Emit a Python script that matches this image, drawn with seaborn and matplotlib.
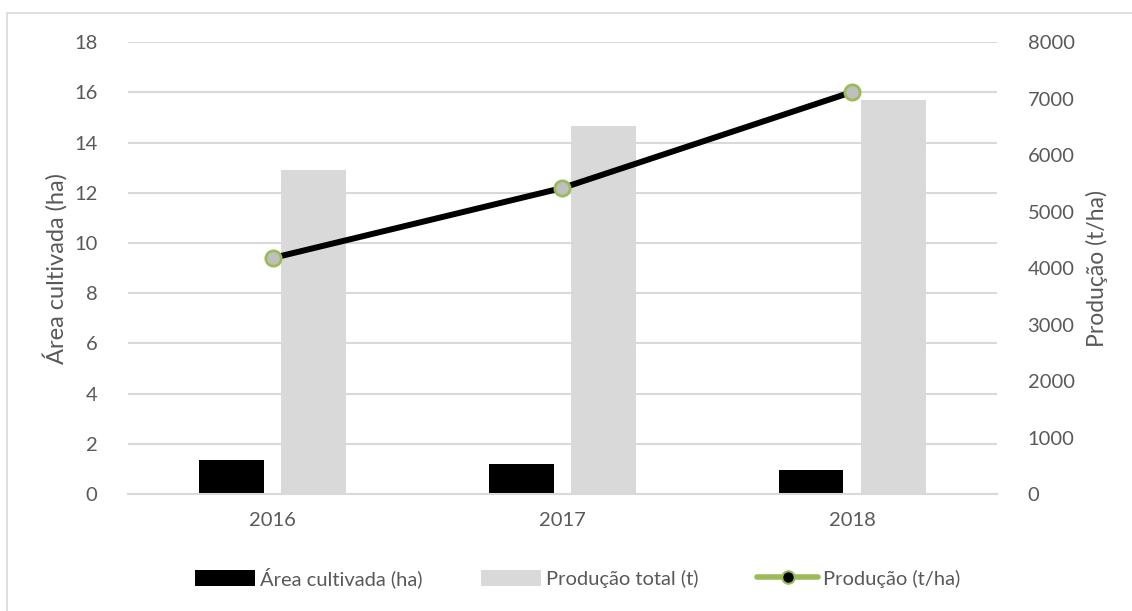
import numpy as np
import pandas as pd
import matplotlib
matplotlib.use("Agg")
import matplotlib.pyplot as plt
from matplotlib.lines import Line2D
from matplotlib.patches import Patch, Rectangle
import seaborn as sns

# Data
anos = ["2016", "2017", "2018"]
area_cultivada = [1.35, 1.19, 0.96]          # ha (left axis)
producao_total = [5730, 6520, 6970]          # t (right axis)
producao_ha = [4180, 5420, 7120]             # t/ha (right axis)

left_ticks = list(range(0, 19, 2))
right_ticks = list(range(0, 8001, 1000))

TEXT = "#595959"
GRID = "#d9d9d9"
BAR_GRAY = "#d9d9d9"
GREEN = "#9bbb59"

sns.set_theme(style="white")
plt.rcParams["font.family"] = ["Lato", "DejaVu Sans"]

fig = plt.figure(figsize=(11.32, 6.11), dpi=100)
ax = fig.add_axes([0.1131, 0.1915, 0.7676, 0.7393])
ax2 = ax.twinx()

series = ["Área cultivada (ha)", "Produção total (t)"]
df_area = pd.DataFrame({"ano": anos, "valor": area_cultivada, "serie": series[0]})
df_prod = pd.DataFrame({"ano": anos, "valor": producao_total, "serie": series[1]})
palette = {series[0]: "#000000", series[1]: BAR_GRAY}

sns.barplot(data=df_area, x="ano", y="valor", hue="serie", hue_order=series,
            palette=palette, order=anos, width=0.568, gap=0.21, dodge=True,
            legend=False, ax=ax, saturation=1, linewidth=0)
sns.barplot(data=df_prod, x="ano", y="valor", hue="serie", hue_order=series,
            palette=palette, order=anos, width=0.568, gap=0.21, dodge=True,
            legend=False, ax=ax2, saturation=1, linewidth=0)

x_pos = np.arange(len(anos))
sns.lineplot(x=x_pos, y=producao_ha, ax=ax2, color="black", linewidth=4.3,
             marker="o", markersize=11, markerfacecolor="#bfbfbf",
             markeredgecolor=GREEN, markeredgewidth=2, zorder=5)

# Left axis
ax.set_ylim(0, 18)
ax.set_yticks(left_ticks)
ax.set_yticklabels([str(t) for t in left_ticks])
ax.yaxis.grid(True, color=GRID, linewidth=1.5)
ax.set_axisbelow(True)
ax.set_ylabel("Área cultivada (ha)", color=TEXT, fontsize=17, labelpad=5)

# Right axis
ax2.set_ylim(0, 8000)
ax2.set_yticks(right_ticks)
ax2.set_yticklabels([str(t) for t in right_ticks])
ax2.set_ylabel("Produção (t/ha)", color=TEXT, fontsize=16.5, labelpad=8)
ax2.grid(False)

# X axis
ax.set_xlim(-0.5, 2.5)
ax.set_xticks(x_pos)
ax.set_xticklabels(anos)
ax.set_xticks([-0.5, 0.5, 1.5, 2.5], minor=True)
ax.set_xlabel("")
ax2.set_xlabel("")

for a in (ax, ax2):
    for side in ("top", "left", "right"):
        a.spines[side].set_visible(False)
ax.spines["bottom"].set_color(GRID)
ax.spines["bottom"].set_linewidth(1.5)
ax2.spines["bottom"].set_visible(False)

ax.tick_params(axis="x", which="major", length=0, pad=13, labelcolor=TEXT, labelsize=14.5)
ax.tick_params(axis="x", which="minor", length=6, width=1.5, color=GRID, direction="out")
ax.tick_params(axis="y", length=0, pad=22, labelcolor=TEXT, labelsize=14.5)
ax2.tick_params(axis="y", length=0, pad=22, labelcolor=TEXT, labelsize=14.5)

# Legend
handles = [
    Patch(facecolor="#000000", edgecolor="none", label=series[0]),
    Patch(facecolor=BAR_GRAY, edgecolor="none", label=series[1]),
    Line2D([0], [0], color=GREEN, linewidth=4, marker="o", markersize=9,
           markerfacecolor="black", markeredgecolor=GREEN, markeredgewidth=1.5,
           label="Produção (t/ha)"),
]
leg = fig.legend(handles=handles, loc="center", bbox_to_anchor=(0.51, 0.055),
                 ncol=3, frameon=False, fontsize=14.5, handlelength=3.0,
                 handleheight=0.8, handletextpad=0.25, columnspacing=2.9)
for t in leg.get_texts():
    t.set_color(TEXT)

# Chart border
fig.patches.append(Rectangle((7 / 1132, -0.05), 1.2, 1 - 13 / 611 + 0.05,
                             transform=fig.transFigure, fill=False,
                             edgecolor=GRID, linewidth=1.2))

fig.savefig("out.png", dpi=100, facecolor="white")
